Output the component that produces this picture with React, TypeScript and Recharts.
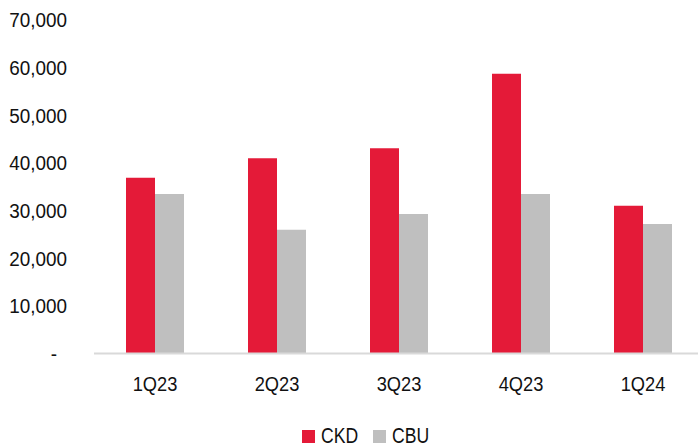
import React from "react";
import { BarChart, Bar, XAxis, YAxis, Legend } from "recharts";

const categories = ["1Q23", "2Q23", "3Q23", "4Q23", "1Q24"];
const ckdValues = [36900, 41000, 43100, 58700, 31000];
const cbuValues = [33500, 26000, 29300, 33500, 27200];
const yTicks = [0, 10000, 20000, 30000, 40000, 50000, 60000, 70000];
const seriesNames = ["CKD", "CBU"];

const data = categories.map((c, i) => ({ name: c, CKD: ckdValues[i], CBU: cbuValues[i] }));

const FONT = "'Liberation Sans', Arial, sans-serif";
const RED = "#E41A38";
const GRAY = "#BFBFBF";
const TEXT = "#111";

const fmt = (v: number) => (v === 0 ? "-" : v.toLocaleString("en-US"));

const YTick = (props: any) => {
  const { x, y, payload } = props;
  const v = payload.value as number;
  return (
    <g transform={`translate(${x},${y})`}>
      <text
        transform="scale(0.9,1)"
        x={v === 0 ? -11 : 0}
        y={0}
        dy="0.355em"
        textAnchor="end"
        fontFamily={FONT}
        fontSize={21}
        fill={TEXT}
      >
        {fmt(v)}
      </text>
    </g>
  );
};

const XTick = (props: any) => {
  const { x, y, payload } = props;
  return (
    <g transform={`translate(${x},${y})`}>
      <text
        transform="scale(0.87,1)"
        x={0}
        y={0}
        dy="0.71em"
        textAnchor="middle"
        fontFamily={FONT}
        fontSize={21}
        fill={TEXT}
      >
        {payload.value}
      </text>
    </g>
  );
};

const LegendContent = (props: any) => {
  const items = [...(props.payload || [])].sort(
    (a: any, b: any) => seriesNames.indexOf(a.value) - seriesNames.indexOf(b.value)
  );
  return (
    <div style={{ display: "flex", justifyContent: "center", fontFamily: FONT, fontSize: 22, color: TEXT }}>
      {items.map((it: any, i: number) => (
        <div key={i} style={{ display: "flex", alignItems: "center", marginRight: i === 0 ? 16 : 0 }}>
          <span style={{ display: "inline-block", width: 13, height: 13, background: it.color, marginRight: 6 }} />
          <span
            style={{
              lineHeight: "22px",
              display: "inline-block",
              width: i === 0 ? 36 : 37,
              transform: "scaleX(0.8)",
              transformOrigin: "left center",
              whiteSpace: "nowrap",
            }}
          >
            {it.value}
          </span>
        </div>
      ))}
    </div>
  );
};

export default function App() {
  return (
    <div style={{ position: "absolute", left: 0, top: 0, width: 698, height: 448, overflow: "hidden", background: "#fff" }}>
      <BarChart
        width={704}
        height={448}
        data={data}
        margin={{ top: 20, right: 0, left: 0, bottom: 0 }}
        barGap={0}
        barSize={29}
      >
        <XAxis
          dataKey="name"
          axisLine={{ stroke: "#D9D9D9", strokeWidth: 2 }}
          tickLine={false}
          tickSize={0}
          tickMargin={23}
          height={50.5}
          tick={<XTick />}
          interval={0}
        />
        <YAxis
          domain={[0, 70000]}
          ticks={yTicks}
          axisLine={false}
          tickLine={false}
          tickSize={0}
          tickMargin={27}
          width={94}
          tick={<YTick />}
          interval={0}
        />
        <Legend
          height={44}
          content={<LegendContent />}
          wrapperStyle={{ top: 425, left: 0, width: 730 }}
        />
        <Bar dataKey="CKD" name="CKD" fill={RED} isAnimationActive={false} />
        <Bar dataKey="CBU" name="CBU" fill={GRAY} isAnimationActive={false} />
      </BarChart>
    </div>
  );
}
